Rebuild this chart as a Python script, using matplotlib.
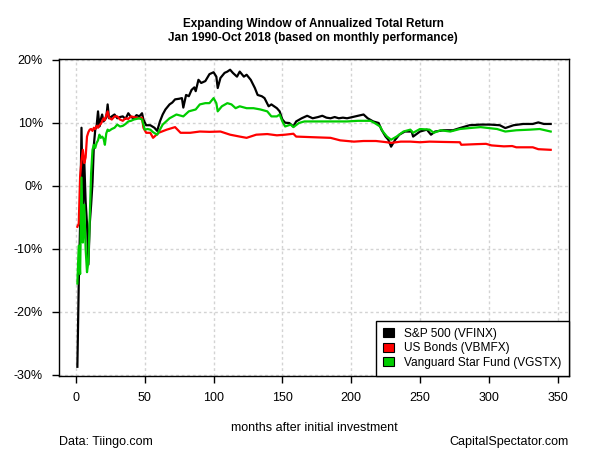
import numpy as np
import matplotlib
matplotlib.use("Agg")
import matplotlib.pyplot as plt
from matplotlib.patches import Patch

plt.rcParams['font.family'] = ['Liberation Sans', 'DejaVu Sans']

# S&P 500 (VFINX), annualized return in %
sp_months = [1, 2, 3, 4, 5, 6, 7, 8, 9, 10, 11, 12, 13, 14, 15, 16, 17, 18, 19, 20, 21, 22, 23, 24,
             26, 28, 30, 32, 34, 36, 38, 40, 42, 44, 46, 48, 49, 51,
             54, 57, 59, 61, 63, 65, 68, 70, 72, 75, 77, 78, 80, 82, 84, 86, 87, 89, 91, 94, 97,
             100, 102, 103, 105, 108, 110, 112, 114, 117, 119, 122, 124, 127, 130, 132, 135, 137,
             140, 142, 146, 148, 150, 152, 155, 158, 160, 164, 168, 172, 176, 179, 182, 185, 188,
             191, 194, 197, 201, 205, 209, 212, 216, 220, 222, 225, 227, 229, 232, 235, 239, 244,
             245, 250, 255, 258, 261, 267, 274, 279, 286, 294, 301, 308, 312, 318, 325, 332, 336,
             340, 345]
sp_ret = [-28.7, -15.5, -6.0, 9.2, -5.0, 4.0, -2.5, -6.0, -12.5, -6.0, -3.0, 0.5, 6.5, 8.9, 9.5,
          11.8, 9.4, 10.5, 11.3, 10.2, 10.5, 10.8, 12.9, 10.7,
          11.0, 11.3, 10.7, 10.9, 11.0, 10.6, 11.5, 10.9, 10.7, 11.2, 11.0, 11.5, 10.5, 9.6,
          9.6, 9.2, 8.7, 10.2, 11.3, 12.1, 12.9, 13.2, 13.7, 13.8, 13.9, 12.4, 14.4, 14.2, 15.2,
          15.6, 15.0, 16.8, 16.3, 16.6, 17.7, 18.0, 17.3, 15.5, 17.1, 17.9, 18.1, 18.4, 17.9,
          17.3, 18.1, 17.3, 17.6, 16.8, 15.5, 14.4, 14.2, 13.9, 12.6, 12.9, 12.3, 11.8, 10.5,
          10.0, 9.95, 9.4, 10.2, 10.7, 11.1, 10.7, 10.9, 11.1, 10.8, 10.7, 10.9, 10.7, 10.8,
          10.7, 10.9, 11.1, 11.3, 10.7, 10.2, 9.95, 8.9, 7.8, 7.3, 6.2, 7.3, 8.1, 8.6, 8.6,
          7.8, 8.6, 8.9, 8.1, 8.6, 8.8, 8.8, 9.15, 9.6, 9.7, 9.7, 9.6, 9.15, 9.6, 9.8, 9.8,
          10.05, 9.8, 9.8]

# US Bonds (VBMFX)
bond_months = [1, 2, 3, 4, 5, 6, 7, 8, 9, 10, 11, 12, 13, 14, 15, 16, 17, 18, 19, 20, 21, 22, 23, 24,
               26, 28, 30, 32, 34, 36, 38, 40, 42, 44, 46, 48, 49, 51,
               54, 56, 60, 66, 72, 76, 83, 90, 97, 105, 112, 119, 124, 131, 139, 146, 152, 158,
               160, 172, 185, 192, 202, 209, 218, 226, 229, 236, 243, 250, 257, 267, 279, 280,
               291, 298, 302, 311, 317, 320, 332, 336, 345]
bond_ret = [-6.5, -6.0, 1.5, 4.0, 5.7, 3.6, 4.5, 7.8, 8.5, 8.9, 9.0, 8.7, 9.2, 9.0, 9.5, 9.2, 9.6,
            9.8, 10.2, 10.7, 10.4, 11.2, 11.8, 10.8,
            10.5, 11.0, 11.0, 10.5, 10.3, 10.7, 10.6, 11.0, 10.9, 10.8, 10.7, 10.8, 9.2, 8.4,
            8.4, 7.6, 8.4, 8.9, 9.3, 8.4, 8.4, 8.6, 8.55, 8.6, 8.1, 7.8, 7.6, 8.1, 8.2, 8.0,
            8.1, 8.25, 7.8, 7.7, 7.6, 7.2, 7.0, 7.1, 7.1, 6.9, 6.8, 7.0, 7.0, 6.9, 7.0, 6.95,
            6.9, 6.5, 6.6, 6.65, 6.4, 6.25, 6.3, 6.1, 6.1, 5.8, 5.7]

# Vanguard Star Fund (VGSTX)
star_months = [1, 2, 3, 4, 5, 6, 7, 8, 9, 10, 11, 12, 13, 14, 15, 16, 17, 18, 19, 20, 21, 22, 23, 24,
               26, 28, 30, 32, 34, 36, 38, 40, 42, 44, 46, 48, 50, 52,
               54, 56, 59, 63, 68, 73, 78, 82, 87, 90, 94, 97, 100, 102, 103, 106, 110, 113, 116,
               119, 124, 129, 134, 139, 142, 146, 148, 150, 152, 156, 158, 162, 166, 173, 185,
               197, 205, 214, 217, 221, 223, 226, 229, 233, 238, 243, 245, 250, 257, 260, 265,
               272, 279, 286, 294, 306, 312, 320, 330, 337, 345]
star_ret = [-15.5, -9.5, -14.0, 1.3, -9.0, -3.0, -10.0, -13.7, -12.0, -5.0, 2.0, 5.7, 6.5, 6.0,
            6.8, 7.2, 8.1, 7.6, 7.8, 7.5, 6.5, 8.3, 8.9, 8.7,
            9.0, 9.2, 9.7, 9.4, 9.5, 9.8, 10.2, 10.3, 10.5, 10.6, 10.7, 10.5, 8.9, 9.0,
            8.9, 8.5, 8.1, 9.7, 10.7, 11.3, 11.0, 11.8, 12.1, 12.9, 13.1, 13.1, 13.9, 13.1,
            11.8, 12.6, 13.1, 12.9, 12.3, 12.6, 12.3, 12.3, 12.1, 11.8, 11.0, 11.0, 11.3, 10.2,
            9.4, 9.7, 9.3, 9.95, 10.2, 10.2, 10.2, 10.2, 10.3, 10.3, 9.95, 9.4, 8.6, 7.8, 7.3,
            7.8, 8.6, 8.9, 8.4, 9.0, 8.9, 8.4, 8.8, 8.6, 9.0, 9.15, 9.3, 9.0, 8.6, 8.8, 8.9,
            9.0, 8.6]

labels = ["S&P 500 (VFINX)", "US Bonds (VBMFX)", "Vanguard Star Fund (VGSTX)"]
colors = ["black", "#ff0000", "#00cd00"]

fig = plt.figure(figsize=(6, 4.5), dpi=100)
ax = fig.add_axes([59/600, 1 - 376/450, 510/600, 317/450])

ax.plot(sp_months, sp_ret, color=colors[0], lw=1.6, zorder=3)
ax.plot(bond_months, bond_ret, color=colors[1], lw=1.6, zorder=4)
ax.plot(star_months, star_ret, color=colors[2], lw=1.6, zorder=5)

ax.set_xlim(-12.35, 358.3)
ax.set_ylim(-30.16, 20.1)
ax.set_xticks(np.arange(0, 351, 50))
ax.set_yticks(np.arange(-30, 21, 10))
ax.set_yticklabels([f"{v}%" for v in range(-30, 21, 10)])
ax.grid(True, color="#d3d3d3", linestyle=(0, (2, 2)), lw=1)
ax.tick_params(direction="out", length=5, width=1, labelsize=9, pad=6.5, colors="black")
for s in ax.spines.values():
    s.set_linewidth(1)
    s.set_color("black")

ax.set_xlabel("months after initial investment", fontsize=9, labelpad=13)

handles = [Patch(facecolor=c, edgecolor="black", lw=0.8) for c in colors]
leg = ax.legend(handles, labels, loc="lower right", borderaxespad=0, fancybox=False,
                edgecolor="black", framealpha=1, fontsize=8.6, handlelength=0.9,
                handleheight=0.8, handletextpad=0.9, labelspacing=0.2, borderpad=0.6)
leg.get_frame().set_linewidth(1)
leg.set_zorder(10)

fig.text(313/600, 1 - 24/450, "Expanding Window of Annualized Total Return",
         ha="center", va="center", fontsize=8.5, fontweight="bold")
fig.text(313/600, 1 - 37.5/450, "Jan 1990-Oct 2018 (based on monthly performance)",
         ha="center", va="center", fontsize=8.5, fontweight="bold")
fig.text(59/600, 1 - 442/450, "Data: Tiingo.com", ha="left", va="center", fontsize=9)
fig.text(569/600, 1 - 442/450, "CapitalSpectator.com", ha="right", va="center", fontsize=9)

fig.savefig("out.png", dpi=100)
